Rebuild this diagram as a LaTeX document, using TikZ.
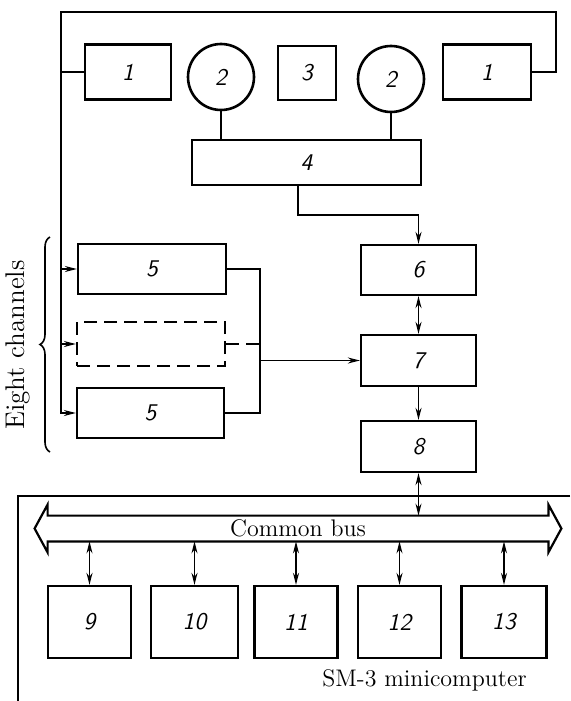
\documentclass[tikz,border=0pt]{standalone}
\usetikzlibrary{arrows.meta,calc,decorations.pathreplacing}
\newcommand\numfont{\sffamily\itshape\fontsize{12}{14}\selectfont}
\newcommand\lblfont{\rmfamily\fontsize{12}{14}\selectfont}
\begin{document}
\begin{tikzpicture}[x=0.5pt,y=-0.5pt,
  box/.style={draw,line width=1.1pt,inner sep=0pt,font=\numfont},
  circ/.style={draw,circle,line width=1.3pt,inner sep=0pt,minimum size=33pt,font=\numfont},
  conn/.style={line width=0.8pt},
  arr/.style={conn,-{Stealth[length=6pt,width=3pt]}},
  darr/.style={conn,{Stealth[length=6pt,width=3pt]}-{Stealth[length=6pt,width=3pt]}},
  dsh/.style={dash pattern=on 6.5pt off 3.5pt}]
\useasboundingbox (0,0) rectangle (570,701);
% top row
\node[box,minimum width=43pt,minimum height=27.5pt] (b1L) at (128,72) {1};
\node[circ] (c2L) at (221,77) {2};
\node[box,minimum width=29pt,minimum height=27pt] (b3) at (307,73) {3};
\node[circ] (c2R) at (391,79) {2};
\node[box,minimum width=44pt,minimum height=27.5pt] (b1R) at (487,72) {1};
\node[box,minimum width=114.5pt,minimum height=22.5pt] (b4) at (306.5,162.5) {4};
% channels
\node[box,minimum width=74pt,minimum height=25pt] (b5a) at (152,269) {5};
\node[box,dsh,minimum width=74pt,minimum height=22pt] (b5d) at (151,344) {};
\node[box,minimum width=73.5pt,minimum height=25pt] (b5b) at (150.5,413) {5};
% right column
\node[box,minimum width=57.5pt,minimum height=25pt] (b6) at (418.5,270) {6};
\node[box,minimum width=57.5pt,minimum height=25.5pt] (b7) at (418.5,360.5) {7};
\node[box,minimum width=57.5pt,minimum height=25.5pt] (b8) at (418.5,446.5) {8};
% bus
\node[minimum width=250pt,minimum height=12.5pt,inner sep=0pt,font=\lblfont] (bus) at (298,528.5) {Common bus};
\draw[line width=1.1pt] (bus.north west) -- ++(0,-11) -- ($(bus.west)+(-13,0)$) -- ($(bus.south west)+(0,11)$)
  -- (bus.south west) -- (bus.south east) -- ++(0,11) -- ($(bus.east)+(13,0)$)
  -- ($(bus.north east)+(0,-11)$) -- (bus.north east) -- cycle;
% bottom boxes
\node[box,minimum width=41.5pt,minimum height=36pt] (b9) at (89.5,622) {9};
\node[box,minimum width=43.5pt,minimum height=36pt] (b10) at (194.5,622) {10};
\node[box,minimum width=41.5pt,minimum height=36pt] (b11) at (296,622) {11};
\node[box,minimum width=41.5pt,minimum height=36pt] (b12) at (399.5,622) {12};
\node[box,minimum width=42.5pt,minimum height=36pt] (b13) at (504,622) {13};
% texts
\node[font=\lblfont,anchor=center] (sm) at (424.5,680) {SM-3 minicomputer};
\node[font=\rmfamily\fontsize{13.5}{15}\selectfont,rotate=90] (eight) at (18,345) {Eight channels};
\draw[line width=0.8pt,decorate,decoration={brace,amplitude=5pt}] (50,452) -- (50,237);
% frame
\coordinate (fr) at (570,496);
\coordinate (fc) at (18,496);
\coordinate (fb) at (18,701);
\draw[line width=1.1pt] (fr) -- (fc) -- (fb);
% connectors
\coordinate (tl) at (61,12);
\coordinate (tr) at (556,12);
\draw[arr] (b1R.east) -| (tr) -- (tl) |- (b5b.west);
\draw[conn] (b1L.west) -- (b1L.west -| tl);
\draw[arr] (tl |- b5a.west) -- (b5a.west);
\draw[arr] (tl |- b5d.west) -- (b5d.west);
\draw[conn] (c2L.south) -- (c2L.south |- b4.north);
\draw[conn] (c2R.south) -- (c2R.south |- b4.north);
\coordinate (k) at (298,215);
\draw[arr] (b4.south -| k) -- (k) -| (b6.north);
\coordinate (cx) at (260,363);
\draw[conn] (b5a.east) -| (b5b.east -| cx) -- (b5b.east);
\draw[conn,dsh] (b5d.east) -- (b5d.east -| cx);
\draw[arr] (cx |- b7.west) -- (b7.west);
\draw[darr] (b6.south) -- (b7.north);
\draw[arr] (b7.south) -- (b8.north);
\draw[darr] (b8.south) -- (b8.south |- bus.north);
\foreach \b in {b9,b10,b11,b12,b13}
  \draw[darr] (\b.north) -- (\b.north |- bus.south);
\end{tikzpicture}
\end{document}
